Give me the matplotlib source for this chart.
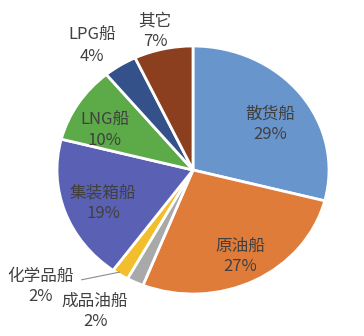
import numpy as np
import matplotlib.pyplot as plt

plt.rcParams['font.family'] = ['Noto Sans CJK SC', 'DejaVu Sans']

names = ['散货船', '原油船', '成品油船', '化学品船', '集装箱船', 'LNG船', 'LPG船', '其它']
shares = [29, 27, 2, 2, 19, 10, 4, 7]
colors = ['#6895CB', '#E07C3A', '#A9A9A9', '#F2BE2C', '#5A61B5', '#5CAA48', '#34518A', '#8B3F1E']
# label centres, in pie units (rim = 1)
label_xy = [(0.57, 0.37), (0.35, -0.70), (-0.72, -1.14), (-1.12, -0.94),
            (-0.66, -0.27), (-0.65, 0.32), (-0.74, 1.0), (-0.28, 1.12)]

fig = plt.figure(figsize=(3.64, 3.36), dpi=100)
cx, cy, rx, ry = 193, 170, 136, 124
ax = fig.add_axes([(cx - rx) / 364, (336 - cy - ry) / 336, 2 * rx / 364, 2 * ry / 336])

wedges, _ = ax.pie(shares, colors=colors, startangle=90, counterclock=False,
                   wedgeprops=dict(edgecolor='white', linewidth=2))
ax.set_aspect('auto')
ax.set_xlim(-1, 1)
ax.set_ylim(-1, 1)

for i, w in enumerate(wedges):
    x, y = label_xy[i]
    if names[i] == '化学品船':
        mid = np.deg2rad((w.theta1 + w.theta2) / 2)
        ax.annotate('', xy=(0.97 * np.cos(mid), 0.97 * np.sin(mid)), xytext=(-0.84, -0.89),
                    arrowprops=dict(arrowstyle='-', color='#8C8C8C', lw=0.8))
    ax.text(x, y, f'{names[i]}\n{shares[i]}%', ha='center', va='center',
            fontsize=12, color='#404040', linespacing=1.25)

fig.savefig('out.png', dpi=100, facecolor='white')
